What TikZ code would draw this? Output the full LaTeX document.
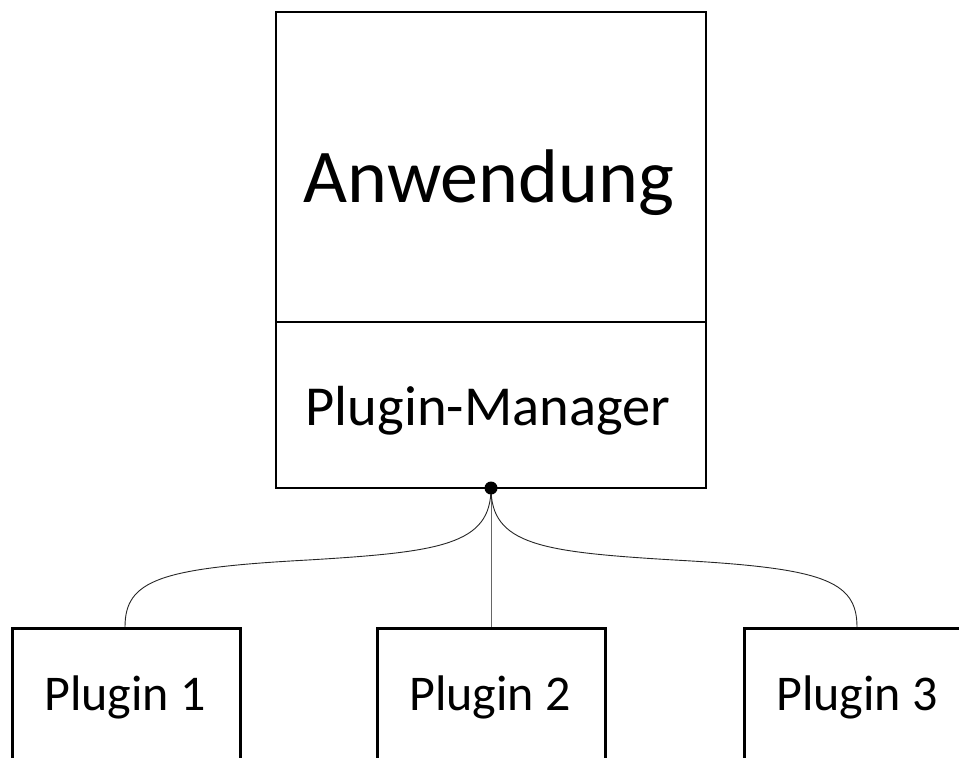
\documentclass[tikz,border=0pt]{standalone}
\usepackage{fontspec}
\setmainfont{Carlito}
\begin{document}
\begin{tikzpicture}[x=1pt,y=-1pt,
  frame/.style={draw=black,line width=2.5pt},
  link/.style={draw=black!85,line width=0.9pt},
  plugbox/.style={frame,minimum width=228pt,minimum height=160pt,anchor=north west,inner sep=0pt},
  plugtext/.style={font=\fontsize{50}{54}\selectfont,anchor=base}]
  \useasboundingbox (0,0) rectangle (959,758);
  \clip (0,0) rectangle (959,758);
  % application with plugin manager compartment
  \draw[frame] (276,12) rectangle (706,488);
  \draw[frame] (276,322) -- (706,322);
  \node[font=\fontsize{76}{80}\selectfont,anchor=base] (app) at (489,202) {Anwendung};
  \node[font=\fontsize{56.5}{60}\selectfont,anchor=base] (pm) at (488,425) {Plugin-Manager};
  \coordinate (hub) at (491,488);
  % plugins
  \node[plugbox] (p1) at (11,627) {};
  \node[plugbox] (p2) at (376,627) {};
  \node[plugbox] (p3) at (743,627) {};
  \node[plugtext] (t1) at (125,710) {Plugin 1};
  \node[plugtext] (t2) at (490,710) {Plugin 2};
  \node[plugtext] (t3) at (857,710) {Plugin 3};
  % connectors
  \coordinate (c1) at (125,627);
  \coordinate (c2) at (491,627);
  \coordinate (c3) at (857,627);
  \draw[link] (hub) .. controls (491,545) and (440,552) .. (308,560)
                    .. controls (160,568) and (125,580) .. (c1);
  \draw[link,draw=black!60] (hub) -- (c2);
  \draw[link] (hub) .. controls (491,545) and (542,552) .. (674,560)
                    .. controls (822,568) and (857,580) .. (c3);
  \fill (hub) circle (6.5pt);
\end{tikzpicture}
\end{document}
